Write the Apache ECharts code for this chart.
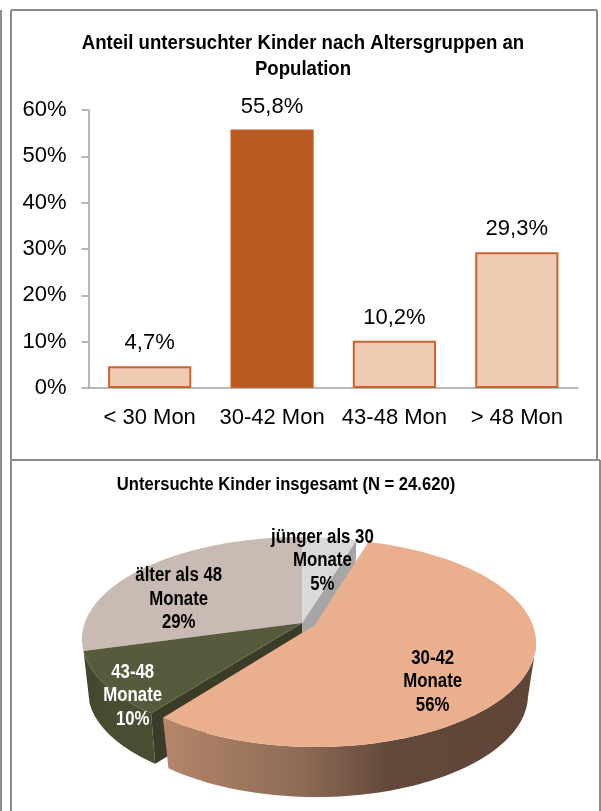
<!DOCTYPE html>
<html>
<head>
<meta charset="utf-8">
<script src="https://cdn.jsdelivr.net/npm/echarts@6/dist/echarts.min.js"></script>
<style>
  html, body { margin: 0; padding: 0; background: #fff; }
  #chart { width: 601px; height: 811px; }
</style>
</head>
<body>
<div id="chart"></div>
<script>
const barCategories = ['< 30 Mon', '30-42 Mon', '43-48 Mon', '> 48 Mon']
const barValues = [4.7, 55.8, 10.2, 29.3]
const barHighlight = 1

const pieLabels = ['jünger als 30\nMonate', '30-42\nMonate', '43-48\nMonate', 'älter als 48\nMonate']
const pieValues = [4.7, 55.8, 10.2, 29.3]

const FONT = '"Liberation Sans", Arial, sans-serif'

// pie look, slice order as in pieValues
const pieTopColors = ['#D9D9D9', '#EAB08E', '#575A3B', '#C9BAB3']
const pieTextColors = ['#000', '#000', '#fff', '#000']
const pieZ = [20, 40, 30, 10]
const labelShift = [[4, -11], [-8, 26], [-51, 36], [-29, 9.5]]

const basePie = {
  apex: [302, 623],
  top: { x: 302, y: 639, rx: 220, ry: 102 },
  bottom: { x: 302, y: 691, rx: 214, ry: 100 },
}
const explodedPie = {
  apex: [315, 625],
  top: { x: 316, y: 643, rx: 220, ry: 104 },
  bottom: { x: 316, y: 695, rx: 212, ry: 102 },
}
const WALL = 52

// where a ray from the apex meets the rim, angle clockwise from 12 o'clock
const rimPoint = (pie, deg) => {
  const a = deg * Math.PI / 180
  const dx = pie.top.rx * Math.sin(a)
  const dy = -pie.top.ry * Math.cos(a)
  const ox = (pie.apex[0] - pie.top.x) / pie.top.rx
  const oy = (pie.apex[1] - pie.top.y) / pie.top.ry
  const ux = dx / pie.top.rx
  const uy = dy / pie.top.ry
  const A = ux * ux + uy * uy
  const B = 2 * (ox * ux + oy * uy)
  const C = ox * ox + oy * oy - 1
  const s = (-B + Math.sqrt(B * B - 4 * A * C)) / (2 * A)
  return [pie.apex[0] + s * dx, pie.apex[1] + s * dy]
}

const lowerPoint = (pie, p) => {
  const t = Math.atan2((p[1] - pie.top.y) / pie.top.ry, (p[0] - pie.top.x) / pie.top.rx)
  return [pie.bottom.x + pie.bottom.rx * Math.cos(t), pie.bottom.y + pie.bottom.ry * Math.sin(t)]
}

const arcPoints = (pie, from, to) => {
  const pts = []
  for (let d = from; d < to; d += 1.5) pts.push(rimPoint(pie, d))
  pts.push(rimPoint(pie, to))
  return pts
}

const poly = (points, fill, z2) => ({
  type: 'polygon',
  shape: { points },
  style: { fill },
  z2,
  silent: true,
})

const orangeWall = new echarts.graphic.LinearGradient(161, 0, 528, 0, [
  { offset: 0, color: '#B5866B' },
  { offset: 0.38, color: '#8E6B56' },
  { offset: 0.62, color: '#64493B' },
  { offset: 1, color: '#5E4538' },
], true)
const greenWall = new echarts.graphic.LinearGradient(85, 0, 152, 0, [
  { offset: 0, color: '#43462D' },
  { offset: 0.4, color: '#4A4D32' },
  { offset: 1, color: '#4B4E33' },
], true)

const renderSlice = (params, api) => {
  const i = params.dataIndex
  const total = pieValues.reduce((a, b) => a + b, 0)
  const start = pieValues.slice(0, i).reduce((a, b) => a + b, 0) / total * 360
  const end = start + api.value(0) / total * 360
  const pie = i === 1 ? explodedPie : basePie
  const z = pieZ[i]
  const rim = arcPoints(pie, start, end)
  const children = []

  // cut faces opened up by the pulled-out slice
  if (i === 0) {
    const r = rim[rim.length - 1]
    children.push(poly([pie.apex, r, lowerPoint(pie, r), [pie.apex[0], pie.apex[1] + WALL]], '#A6A6A6', z - 1))
  }
  if (i === 2) {
    const r = rim[0]
    children.push(poly([pie.apex, r, lowerPoint(pie, r), [pie.apex[0], pie.apex[1] + WALL]], '#3A3C27', z - 1))
  }
  // outer walls
  if (i === 1 || i === 2) {
    const front = rim.filter(p => p[1] >= pie.top.y)
    const wall = front.concat(front.map(p => lowerPoint(pie, p)).reverse())
    children.push(poly(wall, i === 1 ? orangeWall : greenWall, z - 1))
  }
  children.push(poly([pie.apex].concat(rim), pieTopColors[i], z))

  // label, squeezed sideways since no narrow font is around
  const mid = rimPoint(pie, (start + end) / 2)
  children.push({
    type: 'text',
    x: pie.apex[0] + (mid[0] - pie.apex[0]) * 0.6 + labelShift[i][0],
    y: pie.apex[1] + (mid[1] - pie.apex[1]) * 0.6 + labelShift[i][1],
    scaleX: 0.84,
    z2: 100,
    silent: true,
    style: {
      text: pieLabels[i] + '\n' + Math.round(api.value(0)) + '%',
      fill: pieTextColors[i],
      fontFamily: FONT,
      fontWeight: 'bold',
      fontSize: 20,
      lineHeight: 23.5,
      align: 'center',
      verticalAlign: 'middle',
    },
  })
  return { type: 'group', children }
}

const panelLine = (x1, y1, x2, y2) => ({
  type: 'line',
  shape: { x1, y1, x2, y2 },
  style: { stroke: '#8C8C8C', lineWidth: 2 },
  silent: true,
})

const titleText = (text, x, y, size, squeeze) => ({
  type: 'text',
  x,
  y,
  scaleX: squeeze,
  silent: true,
  style: {
    text,
    fill: '#000',
    fontFamily: FONT,
    fontWeight: 'bold',
    fontSize: size,
    lineHeight: 26,
    align: 'center',
    verticalAlign: 'middle',
  },
})

const chart = echarts.init(document.getElementById('chart'), null, { renderer: 'canvas' })
chart.setOption({
  animation: false,
  backgroundColor: '#fff',
  graphic: [
    panelLine(1, 10, 1, 811),
    panelLine(11, 10, 597, 10),
    panelLine(11, 10, 11, 460),
    panelLine(597, 10, 597, 460),
    panelLine(11, 460, 600, 460),
    panelLine(11, 460, 11, 811),
    panelLine(600, 460, 600, 811),
    titleText('Anteil untersuchter Kinder nach Altersgruppen an\nPopulation', 303, 56, 21, 0.886),
    titleText('Untersuchte Kinder insgesamt (N = 24.620)', 286, 485, 18, 0.923),
  ],
  grid: { left: 88.5, right: 23, top: 110, bottom: 423 },
  xAxis: {
    type: 'category',
    data: barCategories,
    axisLine: { lineStyle: { color: '#A0A0A0', width: 1.5 } },
    axisTick: { alignWithLabel: false, length: 7, lineStyle: { color: '#A0A0A0', width: 1.5 } },
    axisLabel: { fontFamily: FONT, fontSize: 22, color: '#000', margin: 19, interval: 0 },
  },
  yAxis: {
    type: 'value',
    min: 0,
    max: 60,
    interval: 10,
    splitLine: { show: false },
    axisLine: { show: true, lineStyle: { color: '#A0A0A0', width: 1.5 } },
    axisTick: { show: true, length: 7, lineStyle: { color: '#A0A0A0', width: 1.5 } },
    axisLabel: { fontFamily: FONT, fontSize: 22, color: '#000', margin: 22, formatter: '{value}%' },
  },
  series: [
    {
      type: 'bar',
      barWidth: '68%',
      data: barValues.map((v, i) => ({
        value: v,
        itemStyle: i === barHighlight
          ? { color: '#B85A22', borderColor: '#C8662E', borderWidth: 1 }
          : { color: '#F0CBB3', borderColor: '#C8662E', borderWidth: 2 },
      })),
      label: {
        show: true,
        position: 'top',
        distance: 12,
        fontFamily: FONT,
        fontSize: 22,
        color: '#000',
        formatter: p => p.value.toFixed(1).replace('.', ',') + '%',
      },
    },
    {
      type: 'custom',
      coordinateSystem: 'none',
      renderItem: renderSlice,
      silent: true,
      data: pieValues.map(v => [v]),
    },
  ],
})
</script>
</body>
</html>
